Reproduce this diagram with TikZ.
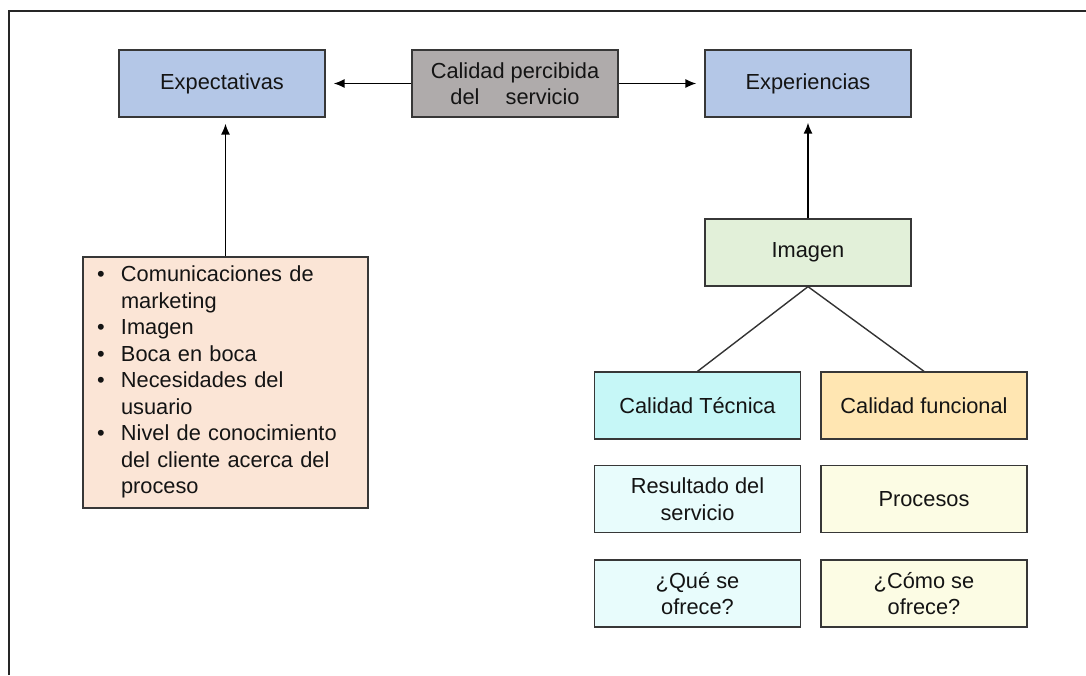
\documentclass[tikz,border=0pt]{standalone}
\usepackage{fontspec}
\setmainfont{Liberation Sans}
\usetikzlibrary{arrows.meta}

\definecolor{edge}{RGB}{55,55,55}
\definecolor{ink}{RGB}{20,20,20}
\definecolor{blueF}{RGB}{180,199,231}
\definecolor{grayF}{RGB}{175,171,171}
\definecolor{peachF}{RGB}{251,229,214}
\definecolor{greenF}{RGB}{226,240,217}
\definecolor{cyanF}{RGB}{198,247,247}
\definecolor{goldF}{RGB}{255,230,178}
\definecolor{cyanL}{RGB}{232,252,252}
\definecolor{yellowL}{RGB}{252,252,228}

\tikzset{
  card/.style={draw=edge, line width=1.3pt, text=ink, align=center,
    minimum width=206pt, minimum height=67pt, inner sep=0pt,
    font=\fontsize{21.8}{26.5}\selectfont},
  link/.style={draw=black!80, line width=1.4pt},
  arrowlink/.style={draw=black, line width=1.4pt, -{Latex[length=11pt,width=9pt]}},
}

\begin{document}
\begin{tikzpicture}[x=1pt, y=-1pt]
  \useasboundingbox (0,0) rectangle (1086,675);

  % outer frame (top and left sides)
  \draw[line width=2pt, black!85] (9,675) -- (9,11) -- (1086,11);

  % top row
  \node[card, fill=blueF] (exp) at (222,83.5) {Expectativas};
  \node[card, fill=grayF] (cal) at (515,83.5) {Calidad percibida\\del\hspace*{1.2em}servicio};
  \node[card, fill=blueF] (expe) at (808,83.5) {Experiencias};

  % list of influences on expectations
  \node[card, fill=peachF, minimum width=285pt, minimum height=251pt,
        text width=257pt, inner xsep=14pt, align=left] (bul) at (225.5,382.5)
    {\begin{tabular}{@{}p{24pt}@{}l@{}}
      \textbullet & Comunicaciones de\\
                  & marketing\\
      \textbullet & Imagen\\
      \textbullet & Boca en boca\\
      \textbullet & Necesidades del\\
                  & usuario\\
      \textbullet & Nivel de conocimiento\\
                  & del cliente acerca del\\
                  & proceso
     \end{tabular}};

  % image and quality dimensions
  \node[card, fill=greenF] (img) at (808,252.5) {Imagen};
  \node[card, fill=cyanF] (tec) at (697.5,405.5) {Calidad Técnica};
  \node[card, fill=goldF] (fun) at (924,405.5) {Calidad funcional};
  \node[card, fill=cyanL] (res) at (697.5,499) {Resultado del\\servicio};
  \node[card, fill=yellowL] (pro) at (924,499) {Procesos};
  \node[card, fill=cyanL] (que) at (697.5,593.5) {¿Qué se\\ofrece?};
  \node[card, fill=yellowL] (como) at (924,593.5) {¿Cómo se\\ofrece?};

  % connectors
  \draw[arrowlink, shorten >=8pt] (cal.west) -- (exp.east);
  \draw[arrowlink, shorten >=8pt] (cal.east) -- (expe.west);
  \draw[arrowlink, shorten >=6pt] (bul.north) -- (bul.north |- exp.south);
  \draw[arrowlink, shorten >=5pt] (img.north) -- (expe.south);
  \draw[link] (img.south) -- (tec.north);
  \draw[link] (img.south) -- (fun.north);
\end{tikzpicture}
\end{document}
